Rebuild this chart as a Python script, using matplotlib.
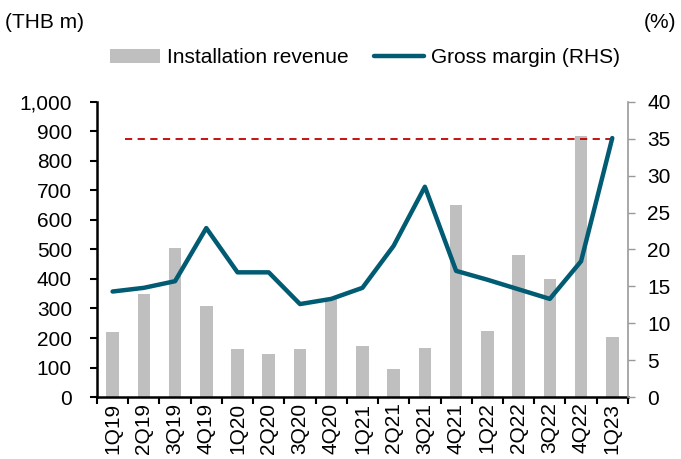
import numpy as np
import matplotlib
matplotlib.use("Agg")
import matplotlib.pyplot as plt

plt.rcParams['font.family'] = ['Liberation Sans', 'DejaVu Sans']

quarters = ['1Q19', '2Q19', '3Q19', '4Q19', '1Q20', '2Q20', '3Q20', '4Q20', '1Q21',
            '2Q21', '3Q21', '4Q21', '1Q22', '2Q22', '3Q22', '4Q22', '1Q23']
revenue = [220, 349, 506, 309, 162, 146, 162, 335, 173,
           95, 167, 649, 223, 482, 400, 885, 204]
margin = [14.3, 14.8, 15.7, 22.9, 16.9, 16.9, 12.6, 13.3, 14.8,
          20.5, 28.5, 17.1, 15.9, 14.6, 13.3, 18.4, 35.1]
target = 35

bar_col = '#BFBFBF'
line_col = '#005B73'
red = '#C00000'
fs = 15

x = np.arange(len(quarters))

fig = plt.figure(figsize=(6.81, 4.59), dpi=100)
ax = fig.add_axes([0.1424, 0.135, 0.7796, 0.643])
ax2 = ax.twinx()

b = ax.bar(x, revenue, width=0.4, color=bar_col, zorder=1)
ax.set_ylim(0, 1000)
ax.set_xlim(-0.5, len(quarters) - 0.5)
ax.set_yticks(np.arange(0, 1001, 100))
ax.set_yticklabels([f'{v:,}' for v in range(0, 1001, 100)])

ax2.plot([0.4, len(quarters) - 1], [target, target], color=red, lw=1.3, ls=(0, (4, 3)))
l, = ax2.plot(x, margin, color=line_col, lw=3.2, solid_capstyle='round')
ax2.set_ylim(0, 40)
ax2.set_yticks(np.arange(0, 41, 5))

# x ticks between categories, labels centred
ax.set_xticks(np.arange(-0.5, len(quarters), 1))
ax.set_xticklabels([])
ax.set_xticks(x, minor=True)
ax.set_xticklabels(quarters, minor=True, rotation=90, fontsize=fs)
ax.tick_params(axis='x', which='minor', length=0, pad=4)
ax.tick_params(axis='x', which='major', length=5, width=1.5, direction='out')
ax.tick_params(axis='y', length=5, width=1.5, labelsize=fs, direction='out', pad=13)
ax2.tick_params(axis='y', length=5, width=1, colors='#999999', labelcolor='black',
                labelsize=fs, pad=9)

for a in (ax, ax2):
    a.spines['top'].set_visible(False)
ax.spines['right'].set_visible(False)
ax2.spines['left'].set_visible(False)
ax2.spines['bottom'].set_visible(False)
ax.spines['left'].set_linewidth(1.8)
ax.spines['bottom'].set_linewidth(1.8)
ax2.spines['right'].set_color('#999999')
ax2.spines['right'].set_linewidth(1.2)

fig.text(0.008, 0.952, '(THB m)', fontsize=fs, ha='left', va='center')
fig.text(0.993, 0.952, '(%)', fontsize=fs, ha='right', va='center')

fig.legend([b, l], ['Installation revenue', 'Gross margin (RHS)'], loc='center',
           bbox_to_anchor=(0.536, 0.874), ncol=2, frameon=False, fontsize=fs,
           handlelength=2.4, handletextpad=0.35, columnspacing=1.2)

fig.savefig('out.png', dpi=100)
